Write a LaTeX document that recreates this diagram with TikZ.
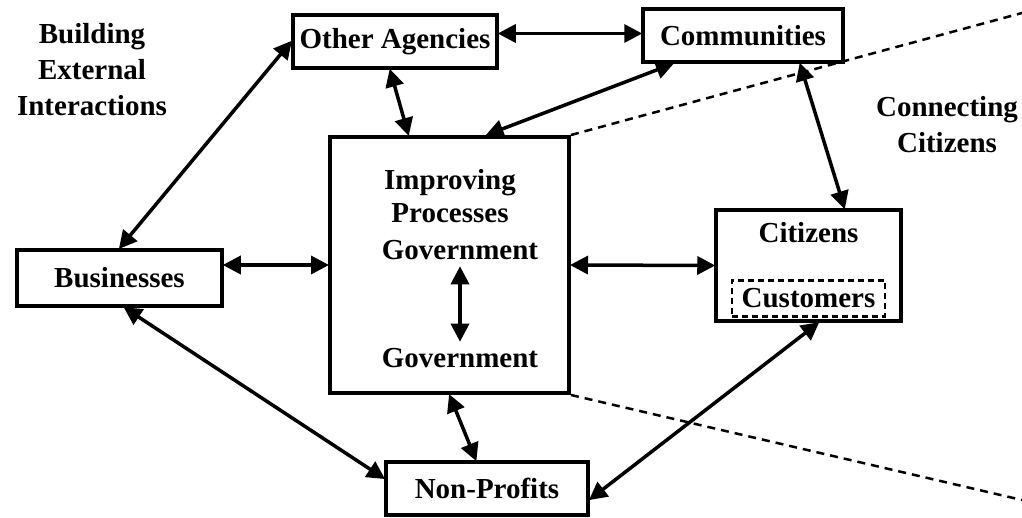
\documentclass[tikz,border=0pt]{standalone}
\usepackage{fontspec}
\setmainfont{Liberation Serif}
\usetikzlibrary{arrows.meta}
\begin{document}
\begin{tikzpicture}[x=1pt,y=-1pt,
    every node/.style={font=\bfseries\fontsize{29}{34}\selectfont},
    box/.style={draw,line width=3.5pt,inner sep=0pt},
    dotbox/.style={draw,dash pattern=on 6pt off 4pt,line width=2.5pt,inner sep=0pt},
    note/.style={align=center,font=\bfseries\fontsize{29}{36}\selectfont}]
  \useasboundingbox (0,0) rectangle (1022,518);
  \draw
    (92,70) node[note] (build){Building\\External\\Interactions}
    (947,125) node[note] (connect){Connecting\\Citizens}
    (395,41.5) node[box,minimum width=204,minimum height=53] (agencies){Other Agencies}
    (743,35.5) node[box,minimum width=200,minimum height=53] (communities){Communities}
    (119.5,278) node[box,minimum width=205,minimum height=56] (businesses){Businesses}
    (487,488.5) node[box,minimum width=202,minimum height=53] (nonprofits){Non-Profits}
    (449.5,265) node[box,line width=4pt,minimum width=239,minimum height=256] (main){}
    (808.5,265.5) node[box,minimum width=185,text height=33,text depth=78] (citizens){Citizens}
    (808.5,298.5) node[dotbox,minimum width=153,minimum height=36] (customers){Customers}
    (450,196) node[note,font=\bfseries\fontsize{29}{33}\selectfont] (improving){Improving\\Processes}
    (460,250) node (gov1){Government}
    (460,358) node (gov2){Government};
  \coordinate (upper) at (1022,13);
  \coordinate (lower) at (1022,500);
  \begin{scope}[dash pattern=on 8pt off 6pt,line width=2.5pt]
    \draw (main.north east) -- (upper);
    \draw (main.south east) -- (lower);
  \end{scope}
  \begin{scope}[{Triangle[length=18pt,width=18pt]}-{Triangle[length=18pt,width=18pt]},line width=3.5pt,shorten <=-1pt,shorten >=-1pt]
    \draw (businesses.north) to (agencies.west);
    \draw ([yshift=8]agencies.east) to ([yshift=2]communities.west);
    \draw ([xshift=-5]agencies.south) to ([xshift=-41]main.north);
    \draw ([xshift=37]main.north) to ([xshift=-70]communities.south);
    \draw ([xshift=57]communities.south) to ([xshift=36]citizens.north);
    \draw ([yshift=13]businesses.east) to (main.west);
    \draw (main.east) to (citizens.west);
    \draw ([xshift=5]businesses.south) to ([yshift=10]nonprofits.west);
    \draw (main.south) to ([xshift=-11]nonprofits.north);
    \draw ([xshift=10]citizens.south) to ([yshift=-11]nonprofits.east);
    \draw ([yshift=-4]gov1.south) to ([yshift=4]gov2.north);
  \end{scope}
\end{tikzpicture}
\end{document}
